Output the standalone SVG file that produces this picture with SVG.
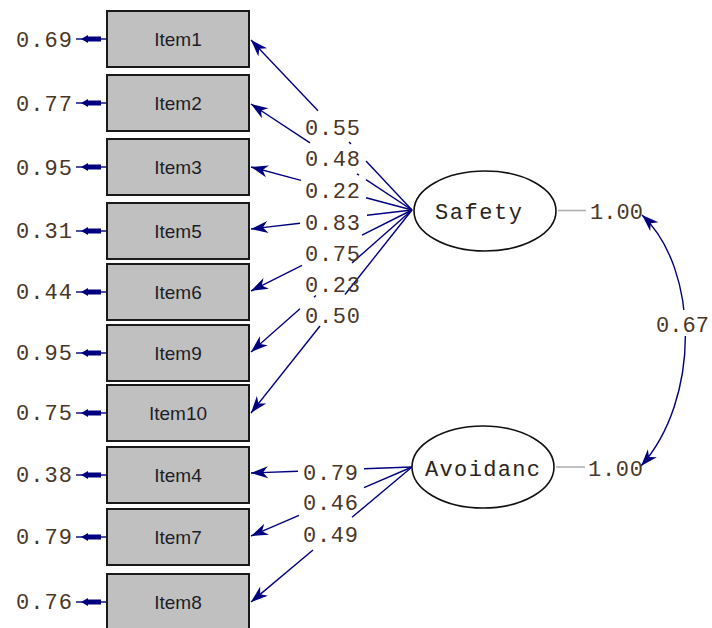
<svg xmlns="http://www.w3.org/2000/svg" width="712" height="628" viewBox="0 0 712 628">
<style>
.box{fill:#c0c0c0;stroke:#1a1a1a;stroke-width:2}
.itm{font-family:"Liberation Sans",Arial,sans-serif;font-size:19px;fill:#1e1e28;text-anchor:middle}
.num{font-family:"Liberation Mono","Courier New",monospace;font-size:22px;fill:#4a3626}
.lat{font-family:"Liberation Mono","Courier New",monospace;font-size:22px;fill:#2a2420}
.ln{stroke:#00007f;stroke-width:1.4;fill:none}
.arr{stroke:#00007f;stroke-width:1.4;fill:none;marker-end:url(#ah)}
.err{fill:#00007f}
.ell{fill:#fff;stroke:#111;stroke-width:1.6}
.gl{stroke:#b0b0b0;stroke-width:1.6}
</style>
<defs>
<marker id="ah" viewBox="-19 -7 20 14" markerWidth="20" markerHeight="14" refX="0" refY="0" orient="auto-start-reverse" markerUnits="userSpaceOnUse">
<path d="M0,0 L-17,-6 L-12,0 L-17,6 Z" fill="#00007f"/>
</marker>
<path id="eh" d="M0,0 L7,-4 L7,-2.4 L20,-2.4 L20,2.4 L7,2.4 L7,4 Z"/>
</defs>
<rect width="712" height="628" fill="#fff"/>

<g id="connectors">
<g class="errs">
<line class="ln" x1="76" y1="39" x2="107" y2="39"/><use href="#eh" class="err" x="81" y="39"/>
<line class="ln" x1="76" y1="103" x2="107" y2="103"/><use href="#eh" class="err" x="81" y="103"/>
<line class="ln" x1="76" y1="167" x2="107" y2="167"/><use href="#eh" class="err" x="81" y="167"/>
<line class="ln" x1="76" y1="231" x2="107" y2="231"/><use href="#eh" class="err" x="81" y="231"/>
<line class="ln" x1="76" y1="292" x2="107" y2="292"/><use href="#eh" class="err" x="81" y="292"/>
<line class="ln" x1="76" y1="353" x2="107" y2="353"/><use href="#eh" class="err" x="81" y="353"/>
<line class="ln" x1="76" y1="413" x2="107" y2="413"/><use href="#eh" class="err" x="81" y="413"/>
<line class="ln" x1="76" y1="475" x2="107" y2="475"/><use href="#eh" class="err" x="81" y="475"/>
<line class="ln" x1="76" y1="537" x2="107" y2="537"/><use href="#eh" class="err" x="81" y="537"/>
<line class="ln" x1="76" y1="602" x2="107" y2="602"/><use href="#eh" class="err" x="81" y="602"/>
</g>
<line class="arr" x1="318" y1="110.7" x2="251" y2="40"/>
<line class="ln" x1="366" y1="161" x2="412" y2="210"/>
<line class="ln" x1="349" y1="142" x2="351" y2="144"/>
<line class="arr" x1="310" y1="142.9" x2="251" y2="104"/>
<line class="ln" x1="366" y1="179.7" x2="412" y2="210"/>
<line class="ln" x1="357" y1="173.8" x2="359" y2="175.1"/>
<line class="arr" x1="301" y1="180.4" x2="251" y2="167"/>
<line class="ln" x1="366" y1="197.7" x2="412" y2="210"/>
<line class="arr" x1="300" y1="223.2" x2="251" y2="229"/>
<line class="ln" x1="367" y1="215.3" x2="412" y2="210"/>
<line class="arr" x1="302" y1="265.3" x2="251" y2="291"/>
<line class="ln" x1="362" y1="235.2" x2="412" y2="210"/>
<line class="arr" x1="300" y1="308.8" x2="251" y2="352"/>
<line class="ln" x1="352" y1="262.9" x2="412" y2="210"/>
<line class="ln" x1="314" y1="297.3" x2="316" y2="295.5"/>
<line class="arr" x1="320" y1="326" x2="251" y2="413"/>
<line class="ln" x1="345" y1="294.5" x2="412" y2="210"/>
<line class="arr" x1="298" y1="471.2" x2="251" y2="473"/>
<line class="ln" x1="364" y1="468.8" x2="412" y2="467"/>
<line class="arr" x1="299" y1="515.4" x2="251" y2="536"/>
<line class="ln" x1="364" y1="487.6" x2="412" y2="467"/>
<line class="arr" x1="313" y1="550" x2="251" y2="602"/>
<line class="ln" x1="352" y1="517.3" x2="412" y2="467"/>
<line class="gl" x1="558" y1="210.5" x2="586" y2="210.5"/>
<line class="gl" x1="556" y1="467" x2="585" y2="467"/>
<path class="ln" d="M642,215 C700,270 700,400 641,466" marker-start="url(#ah)" marker-end="url(#ah)"/>
<rect x="655" y="310" width="57" height="26" fill="#fff"/>
</g>

<g id="Item1"><rect class="box" x="107" y="11" width="142" height="56"/><text class="itm" x="178" y="46">Item1</text><text class="num" x="16" y="47" textLength="56">0.69</text></g>
<g id="Item2"><rect class="box" x="107" y="75" width="142" height="56"/><text class="itm" x="178" y="110">Item2</text><text class="num" x="16" y="111" textLength="56">0.77</text></g>
<g id="Item3"><rect class="box" x="107" y="139" width="142" height="56"/><text class="itm" x="178" y="174">Item3</text><text class="num" x="16" y="175" textLength="56">0.95</text></g>
<g id="Item5"><rect class="box" x="107" y="203" width="142" height="56"/><text class="itm" x="178" y="238">Item5</text><text class="num" x="16" y="238" textLength="56">0.31</text></g>
<g id="Item6"><rect class="box" x="107" y="264" width="142" height="56"/><text class="itm" x="178" y="299">Item6</text><text class="num" x="16" y="299" textLength="56">0.44</text></g>
<g id="Item9"><rect class="box" x="107" y="325" width="142" height="56"/><text class="itm" x="178" y="360">Item9</text><text class="num" x="16" y="360" textLength="56">0.95</text></g>
<g id="Item10"><rect class="box" x="107" y="385" width="142" height="56"/><text class="itm" x="178" y="420">Item10</text><text class="num" x="16" y="420" textLength="56">0.75</text></g>
<g id="Item4"><rect class="box" x="107" y="447" width="142" height="56"/><text class="itm" x="178" y="482">Item4</text><text class="num" x="16" y="482" textLength="56">0.38</text></g>
<g id="Item7"><rect class="box" x="107" y="509" width="142" height="56"/><text class="itm" x="178" y="544">Item7</text><text class="num" x="16" y="544" textLength="56">0.79</text></g>
<g id="Item8"><rect class="box" x="107" y="574" width="142" height="56"/><text class="itm" x="178" y="609">Item8</text><text class="num" x="16" y="609" textLength="56">0.76</text></g>

<g id="Safety"><ellipse class="ell" cx="485" cy="211" rx="71" ry="40"/><text class="lat" x="435" y="219" textLength="87">Safety</text><text class="num" x="590" y="219" textLength="53">1.00</text></g>
<g id="Avoidanc"><ellipse class="ell" cx="483" cy="467" rx="71" ry="41"/><text class="lat" x="425" y="476" textLength="115">Avoidanc</text><text class="num" x="588" y="476" textLength="55">1.00</text></g>

<g id="loadings">
<text class="num" x="305" y="135" textLength="55">0.55</text>
<text class="num" x="305" y="166" textLength="55">0.48</text>
<text class="num" x="305" y="198" textLength="55">0.22</text>
<text class="num" x="305" y="230" textLength="55">0.83</text>
<text class="num" x="305" y="261" textLength="55">0.75</text>
<text class="num" x="305" y="292" textLength="55">0.23</text>
<text class="num" x="305" y="323" textLength="55">0.50</text>
<text class="num" x="303" y="480" textLength="55">0.79</text>
<text class="num" x="303" y="510" textLength="55">0.46</text>
<text class="num" x="303" y="542" textLength="55">0.49</text>
<text class="num" x="656" y="332" textLength="53">0.67</text>
</g>
</svg>
